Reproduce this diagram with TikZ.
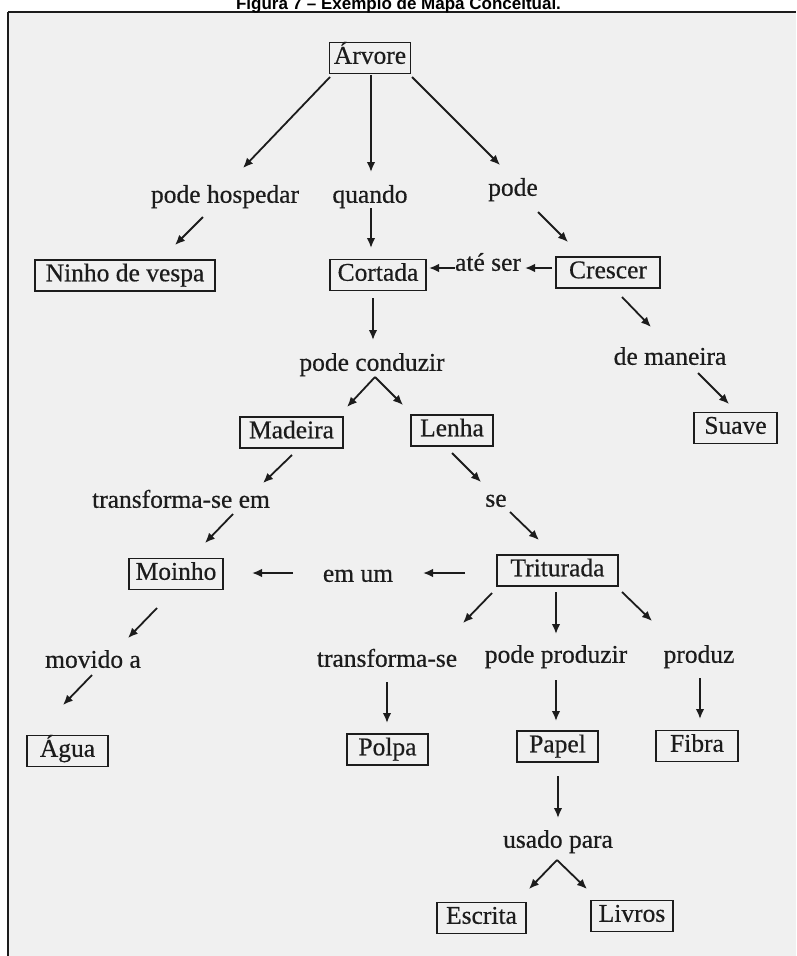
\documentclass[tikz,border=0pt]{standalone}
\usepackage{fontspec}
\setmainfont{Liberation Serif}
\newfontfamily\mapfnt{Liberation Serif}[FakeBold=0.5]
\newfontfamily\titlefont{Liberation Sans}
\usetikzlibrary{arrows.meta}
\definecolor{paper}{RGB}{240,240,240}
\definecolor{ink}{RGB}{28,28,28}
\begin{document}
\begin{tikzpicture}[x=1pt,y=-1pt,
  mapfont/.style={font=\mapfnt\fontsize{25.5}{30}\selectfont},
  box/.style={mapfont, draw=ink, line width=1.2pt, inner xsep=4pt, inner ysep=4.25pt, text height=17pt, text depth=5.5pt, text=ink},
  lbl/.style={mapfont, inner sep=0pt, text height=17pt, text depth=5.5pt, text=ink},
  arr/.style={draw=ink, line width=1.8pt, -{Latex[length=10pt,width=8.5pt]}}]
\useasboundingbox (0,0) rectangle (796,956);
\clip (0,0) rectangle (796,956);
\fill[white] (0,0) rectangle (796,956);
\fill[paper] (8,12) rectangle (796,956);
\draw[ink, line width=2.5pt] (8,12) -- (796,12);
\draw[ink, line width=2pt] (8,12) -- (8,956);
\node[font=\titlefont\bfseries\fontsize{17}{20}\selectfont, anchor=base, inner sep=0pt] (title) at (398.5,9) {Figura 7 – Exemplo de Mapa Conceitual.};

% concept boxes
\node[box, minimum width=81pt]  (arvore)    at (370,58)      {Árvore};
\node[box, minimum width=180pt] (ninho)     at (125,275.5)   {Ninho de vespa};
\node[box, minimum width=96pt]  (cortada)   at (378,275)     {Cortada};
\node[box, minimum width=104pt] (crescer)   at (608,272.5)   {Crescer};
\node[box, minimum width=83pt]  (suave)     at (735.5,428)   {Suave};
\node[box, minimum width=103pt] (madeira)   at (291.5,432.5) {Madeira};
\node[box, minimum width=82pt]  (lenha)     at (452,430.5)   {Lenha};
\node[box, minimum width=94pt]  (moinho)    at (176,574)     {Moinho};
\node[box, minimum width=81pt]  (agua)      at (67.5,751)    {Água};
\node[box, minimum width=121pt] (triturada) at (557.5,570.5) {Triturada};
\node[box, minimum width=81pt]  (polpa)     at (387.5,749.5) {Polpa};
\node[box, minimum width=81pt]  (papel)     at (557.5,746.5) {Papel};
\node[box, minimum width=82pt]  (fibra)     at (697,746)     {Fibra};
\node[box, minimum width=89pt]  (escrita)   at (481.5,918)   {Escrita};
\node[box, minimum width=82pt]  (livros)    at (632,916)     {Livros};

% linking phrases
\node[lbl] (ph)       at (225,197) {pode hospedar};
\node[lbl] (quando)   at (370,197) {quando};
\node[lbl] (pode)     at (513,190) {pode};
\node[lbl] (ateser)   at (488,265) {até ser};
\node[lbl] (demaneira) at (670,359) {de maneira};
\node[lbl] (pc)       at (372,365) {pode conduzir};
\node[lbl] (transfem) at (181,502) {transforma-se em};
\node[lbl] (se)       at (496,501) {se};
\node[lbl] (emum)     at (358,576) {em um};
\node[lbl] (movido)   at (93,662)  {movido a};
\node[lbl] (transf)   at (387,661) {transforma-se};
\node[lbl] (pp)       at (556,657) {pode produzir};
\node[lbl] (produz)   at (699,657) {produz};
\node[lbl] (usado)    at (558,842) {usado para};

% connectors
\draw[arr] ([shift={(-40,19)}]arvore.center) -- ([shift={(18,-29)}]ph.center);
\draw[arr] ([shift={(-22,20)}]ph.center) -- ([shift={(50,-30.5)}]ninho.center);
\draw[arr] ([shift={(1,17)}]arvore.center) -- ([shift={(1,-25)}]quando.center);
\draw[arr] ([shift={(1,11)}]quando.center) -- ([shift={(-7,-27)}]cortada.center);
\draw[arr] ([shift={(42,19)}]arvore.center) -- ([shift={(-13,-25)}]pode.center);
\draw[arr] ([shift={(25,22)}]pode.center) -- ([shift={(-40,-30.5)}]crescer.center);
\draw[arr] ([shift={(-56,-4.5)}]crescer.center) -- ([shift={(37,3)}]ateser.center);
\draw[arr] ([shift={(-33,3)}]ateser.center) -- ([shift={(51,-7)}]cortada.center);
\draw[arr] ([shift={(14,24.5)}]crescer.center) -- ([shift={(-19,-32)}]demaneira.center);
\draw[arr] ([shift={(28,14)}]demaneira.center) -- ([shift={(-6.5,-24)}]suave.center);
\draw[arr] ([shift={(-5,23)}]cortada.center) -- ([shift={(1,-25)}]pc.center);
\draw[arr] ([shift={(3,12)}]pc.center) -- ([shift={(55.5,-25.5)}]madeira.center);
\draw[arr] ([shift={(3,12)}]pc.center) -- ([shift={(-49,-25.5)}]lenha.center);
\draw[arr] ([shift={(0.5,22.5)}]madeira.center) -- ([shift={(82,-19)}]transfem.center);
\draw[arr] ([shift={(52,12)}]transfem.center) -- ([shift={(29,-31)}]moinho.center);
\draw[arr] ([shift={(0,22.5)}]lenha.center) -- ([shift={(-15,-19)}]se.center);
\draw[arr] ([shift={(14,11)}]se.center) -- ([shift={(-18.5,-30.5)}]triturada.center);
\draw[arr] ([shift={(-92.5,2.5)}]triturada.center) -- ([shift={(65,-3)}]emum.center);
\draw[arr] ([shift={(-65,-3)}]emum.center) -- ([shift={(76,-1)}]moinho.center);
\draw[arr] ([shift={(-19,34)}]moinho.center) -- ([shift={(35,-24)}]movido.center);
\draw[arr] ([shift={(-1,13)}]movido.center) -- ([shift={(-4.5,-46)}]agua.center);
\draw[arr] ([shift={(-65.5,22.5)}]triturada.center) -- ([shift={(76,-38)}]transf.center);
\draw[arr] ([shift={(0,21)}]transf.center) -- ([shift={(-0.5,-26.5)}]polpa.center);
\draw[arr] ([shift={(-1.5,21.5)}]triturada.center) -- ([shift={(0,-23)}]pp.center);
\draw[arr] ([shift={(0,23)}]pp.center) -- ([shift={(-1.5,-25.5)}]papel.center);
\draw[arr] ([shift={(64.5,21.5)}]triturada.center) -- ([shift={(-47,-36)}]produz.center);
\draw[arr] ([shift={(1,21)}]produz.center) -- ([shift={(3,-27)}]fibra.center);
\draw[arr] ([shift={(0.5,29.5)}]papel.center) -- ([shift={(0,-24)}]usado.center);
\draw[arr] ([shift={(-1,18)}]usado.center) -- ([shift={(47.5,-29)}]escrita.center);
\draw[arr] ([shift={(-1,18)}]usado.center) -- ([shift={(-45,-27)}]livros.center);
\end{tikzpicture}
\end{document}
